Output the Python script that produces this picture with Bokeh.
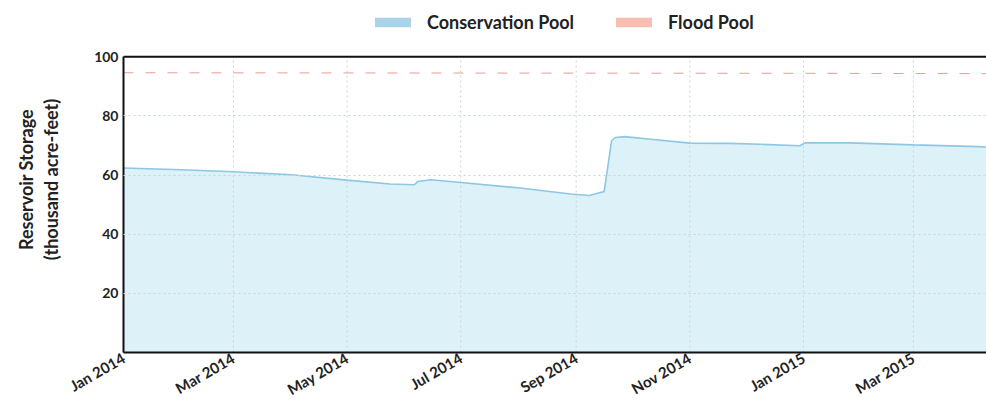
import pandas as pd
from bokeh.plotting import figure
from bokeh.models import (Legend, LegendItem, FixedTicker, MonthsTicker, Span, LinearAxis,
                          DatetimeTickFormatter, Range1d, ColumnDataSource)
from bokeh.embed import file_html
from bokeh.resources import INLINE
import math

# ---- data ----
dates = ["2014-01-01", "2014-02-01", "2014-03-01", "2014-04-01", "2014-05-01",
         "2014-05-24", "2014-06-06", "2014-06-08", "2014-06-15", "2014-07-01",
         "2014-08-02", "2014-08-29", "2014-09-08", "2014-09-14", "2014-09-16",
         "2014-09-20", "2014-09-22", "2014-09-27", "2014-10-11", "2014-11-01",
         "2014-11-22", "2014-12-09", "2014-12-30", "2015-01-02", "2015-01-26",
         "2015-03-01", "2015-04-05", "2015-04-09"]
conservation = [62.4, 61.8, 61.1, 60.1, 58.3,
                57.0, 56.7, 57.8, 58.4, 57.5,
                55.6, 53.6, 53.1, 54.1, 54.4,
                71.6, 72.7, 73.0, 72.1, 70.8,
                70.7, 70.4, 69.9, 70.9, 70.9,
                70.2, 69.6, 69.5]
flood_dates = ["2014-01-01", "2014-07-01", "2015-01-01", "2015-04-09"]
flood = [94.6, 94.5, 94.4, 94.3]
x_tick_dates = ["2014-01-01", "2014-03-01", "2014-05-01", "2014-07-01",
                "2014-09-01", "2014-11-01", "2015-01-01", "2015-03-01"]
y_ticks = [20, 40, 60, 80, 100]
y_grid = [20, 40, 60, 80]
y_min, y_top = 0, 100          # axis extent
y_view_max = 117               # extra room above the axis for the legend
x_start, x_end = "2014-01-01", "2015-04-09 06:00"

cons_src = ColumnDataSource(dict(x=pd.to_datetime(dates), y=conservation))
flood_src = ColumnDataSource(dict(x=pd.to_datetime(flood_dates), y=flood))
vgrid_src = ColumnDataSource(dict(x=pd.to_datetime(x_tick_dates),
                                  y0=[y_min] * len(x_tick_dates),
                                  y1=[y_top] * len(x_tick_dates)))

FONT = "Lato"
TXT = "#222222"

p = figure(frame_width=863, frame_height=346, x_axis_type="datetime",
           x_range=Range1d(pd.Timestamp(x_start), pd.Timestamp(x_end)),
           y_range=Range1d(y_min, y_view_max),
           output_backend="svg", toolbar_location=None,
           min_border_left=123, min_border_right=0, min_border_top=6, min_border_bottom=40)
p.outline_line_color = None
p.background_fill_color = "white"

cons_area = p.varea(x="x", y1=0, y2="y", source=cons_src, fill_color="#ddf1f9")

# vertical dotted grid lines (limited to the axis extent)
p.segment(x0="x", y0="y0", x1="x", y1="y1", source=vgrid_src,
          line_color="#c5d5de", line_dash="2 3", line_width=1)

p.line(x="x", y="y", source=cons_src, line_color="#8ec7e1", line_width=1.6)
p.line(x="x", y="y", source=flood_src, line_color="#ee9a95", line_width=1, line_dash="10 12")

# legend swatches (zero-height areas built from the same data)
cons_key = p.varea(x="x", y1="y", y2="y", source=cons_src, fill_color="#a9d3e8")
flood_key = p.varea(x="x", y1="y", y2="y", source=flood_src, fill_color="#f8bfb0")

# top border of the plot area
p.add_layout(Span(location=y_top, dimension="width", line_color="#111111", line_width=2))

# axes
xa = p.xaxis[0]
xa.ticker = MonthsTicker(months=[0, 2, 4, 6, 8, 10])
xa.formatter = DatetimeTickFormatter(months="%b %Y", days="%b %Y", years="%b %Y")
xa.major_label_orientation = math.pi / 6
xa.axis_line_width = 2
xa.axis_line_color = "#111111"
xa.major_tick_line_color = None
xa.minor_tick_line_color = None
xa.major_tick_out = 0
xa.major_tick_in = 0
xa.minor_tick_out = 0
xa.axis_label_standoff = 0
xa.major_label_text_font = FONT
xa.major_label_text_font_style = "bold"
xa.major_label_text_font_size = "15px"
xa.major_label_text_color = TXT
xa.major_label_standoff = 4

ya = p.yaxis[0]
ya.ticker = FixedTicker(ticks=y_ticks)
ya.bounds = (y_min, y_top)
ya.axis_line_width = 2
ya.axis_line_color = "#111111"
ya.major_tick_line_color = None
ya.minor_tick_line_color = None
ya.major_tick_out = 0
ya.major_tick_in = 0
ya.minor_tick_out = 0
ya.major_label_text_font = FONT
ya.major_label_text_font_style = "bold"
ya.major_label_text_font_size = "14px"
ya.major_label_text_color = TXT
ya.major_label_standoff = 5
ya.axis_label_standoff = 0

yb = LinearAxis(ticker=FixedTicker(ticks=[]), axis_line_color=None, bounds=(0, 110),
                major_tick_line_color=None, minor_tick_line_color=None,
                major_tick_out=0, major_tick_in=0, minor_tick_out=0,
                major_label_standoff=0,
                axis_label="(thousand acre-feet)", axis_label_text_font=FONT,
                axis_label_text_font_style="bold", axis_label_text_font_size="18px",
                axis_label_text_color=TXT, axis_label_standoff=30)
p.add_layout(yb, "left")

ya2 = LinearAxis(ticker=FixedTicker(ticks=[]), axis_line_color=None, bounds=(0, 110),
                 major_tick_line_color=None, minor_tick_line_color=None,
                 major_tick_out=0, major_tick_in=0, minor_tick_out=0,
                 major_label_standoff=0,
                 axis_label="Reservoir Storage", axis_label_text_font=FONT,
                 axis_label_text_font_style="bold", axis_label_text_font_size="18px",
                 axis_label_text_color=TXT, axis_label_standoff=0)
p.add_layout(ya2, "left")

# grid
p.xgrid.visible = False
g = p.ygrid[0]
g.grid_line_color = "#c5d5de"
g.grid_line_dash = "2 3"
g.grid_line_width = 1
g.level = "annotation"
g.ticker = FixedTicker(ticks=y_grid)

legend = Legend(items=[LegendItem(label="Conservation Pool", renderers=[cons_key]),
                       LegendItem(label="Flood Pool", renderers=[flood_key])],
                orientation="horizontal", location=(247, 319),
                glyph_width=45, glyph_height=12, label_standoff=12, spacing=37,
                label_text_font=FONT, label_text_font_style="bold",
                label_text_font_size="18px", label_text_color=TXT,
                border_line_color=None, background_fill_alpha=0,
                padding=0, margin=0)
p.add_layout(legend, "center")

open("out.html", "w").write(file_html(p, INLINE))
